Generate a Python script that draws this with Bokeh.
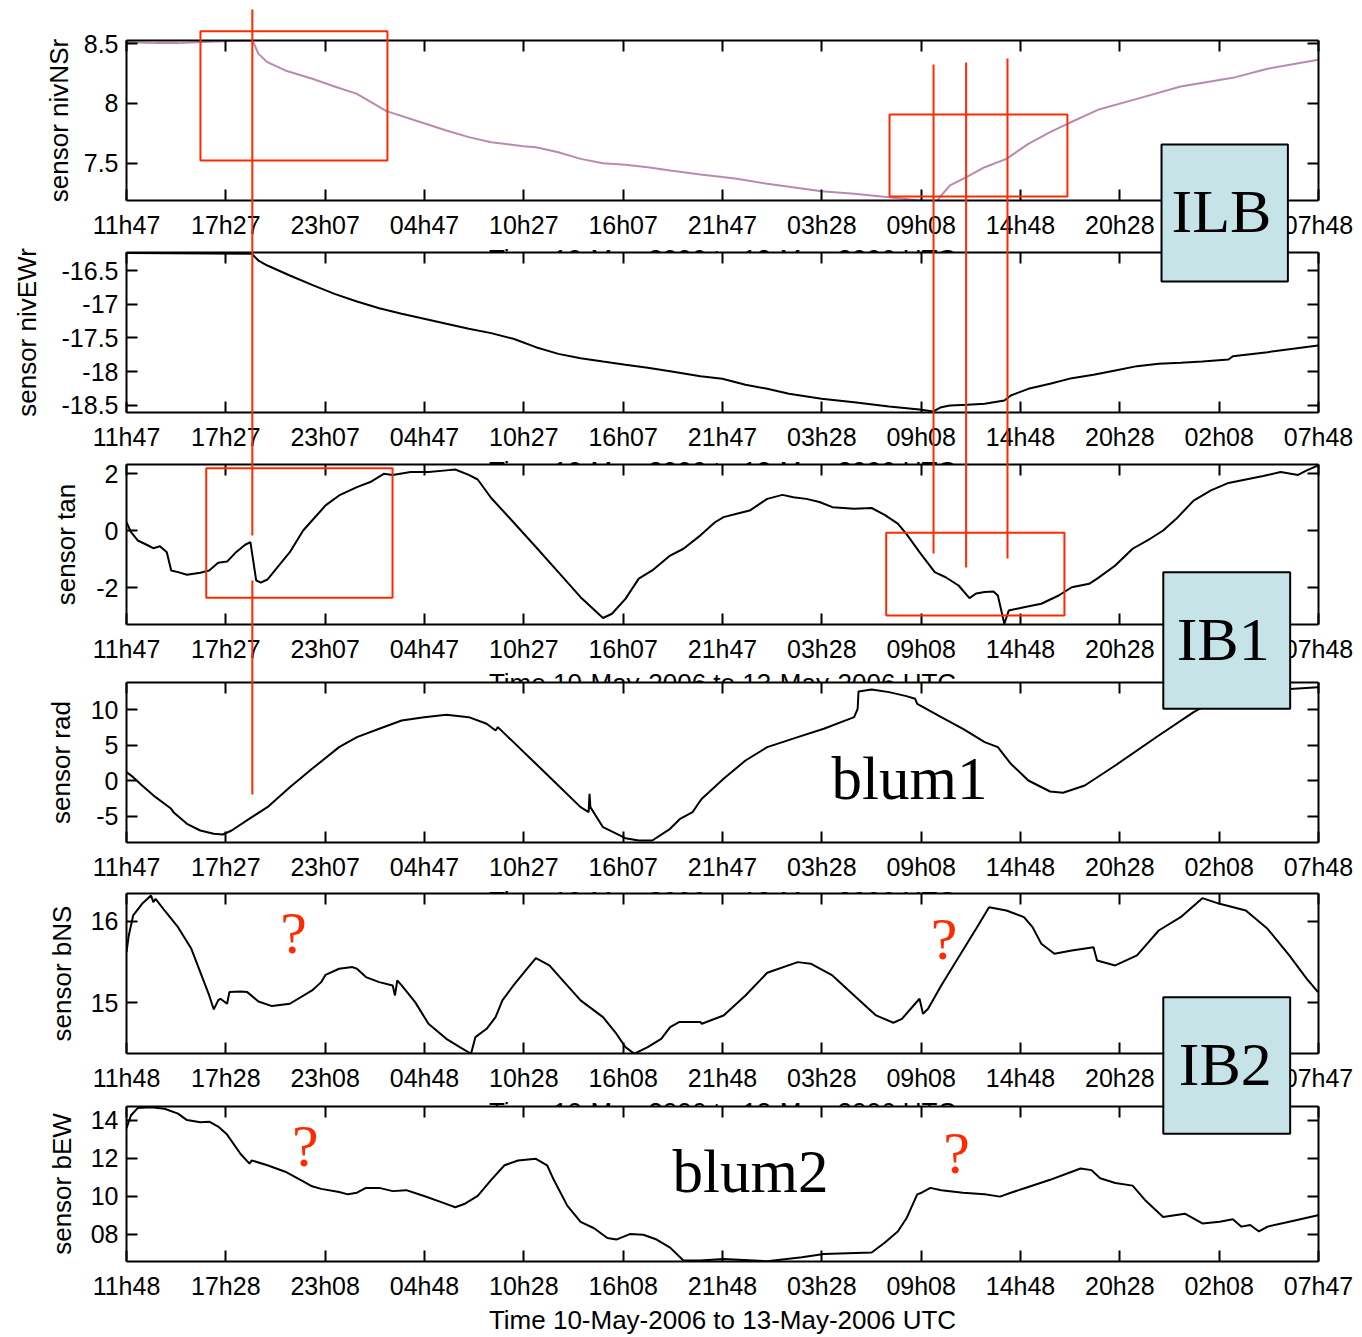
from bokeh.plotting import figure
from bokeh.models import Range1d, LinearAxis, FixedTicker, BoxAnnotation, Label, ColumnDataSource
from bokeh.layouts import column
from bokeh.embed import file_html
from bokeh.resources import INLINE

# ---------------- data ----------------
T_END = 68 + 1 / 60.0          # hours from 10-May 11h47 to 13-May 07h48
x_ticks = [i * T_END / 12 for i in range(13)]
xlabels_a = ["11h47", "17h27", "23h07", "04h47", "10h27", "16h07", "21h47",
             "03h28", "09h08", "14h48", "20h28", "02h08", "07h48"]
xlabels_b = ["11h48", "17h28", "23h08", "04h48", "10h28", "16h08", "21h48",
             "03h28", "09h08", "14h48", "20h28", "02h08", "07h47"]
TIME_TEXT = "Time 10-May-2006 to 13-May-2006 UTC"

nivNSr_h = [0, 1.66, 2.94, 5.49, 7.15, 7.28, 7.53, 8.04, 9.06, 10.6, 11.87, 13.15, 14.83, 16.98, 18.25,
            19.53, 20.81, 22.65, 23.36, 24.64, 25.91, 27.19, 28.47, 29.74, 31.02, 32.75, 34.0, 34.82, 36.56,
            39.66, 41.52, 43.51, 45.25, 46.24, 46.49, 46.99, 47.98, 48.97, 50.21, 51.46, 52.70, 53.69, 55.43,
            57.66, 60.15, 63.13, 65.11, 68.0]
nivNSr_v = [8.514, 8.506, 8.506, 8.522, 8.528, 8.500, 8.416, 8.346, 8.277, 8.207, 8.142, 8.081, 7.936,
            7.835, 7.774, 7.718, 7.676, 7.642, 7.634, 7.592, 7.536, 7.500, 7.486, 7.466, 7.439, 7.405, 7.383,
            7.369, 7.327, 7.265, 7.243, 7.215, 7.187, 7.182, 7.229, 7.313, 7.388, 7.466, 7.536, 7.662, 7.760,
            7.830, 7.947, 8.039, 8.142, 8.215, 8.291, 8.366]

nivEWr_h = [0, 7.15, 7.53, 8.04, 9.32, 10.59, 11.87, 13.15, 14.42, 15.70, 16.98, 18.25, 19.53, 20.81, 22.08,
            23.36, 24.64, 25.91, 27.19, 28.47, 29.74, 31.02, 32.75, 34.0, 35.32, 36.56, 37.80, 39.66, 41.52,
            43.51, 45.25, 46.04, 46.49, 46.99, 47.98, 48.97, 50.09, 50.46, 51.46, 52.70, 53.94, 55.18, 56.42,
            57.66, 58.90, 60.15, 61.39, 62.88, 63.13, 65.11, 67.99]
nivEWr_v = [-16.24, -16.253, -16.352, -16.426, -16.574, -16.712, -16.846, -16.959, -17.058, -17.142,
            -17.216, -17.290, -17.364, -17.428, -17.512, -17.636, -17.735, -17.799, -17.849, -17.898,
            -17.942, -17.992, -18.066, -18.105, -18.194, -18.253, -18.327, -18.401, -18.451, -18.515,
            -18.559, -18.589, -18.525, -18.500, -18.490, -18.475, -18.426, -18.352, -18.253, -18.179,
            -18.095, -18.046, -17.981, -17.917, -17.883, -17.868, -17.848, -17.819, -17.770, -17.710, -17.611]

tan_h = [0, 0.26, 0.64, 1.15, 1.53, 1.91, 2.30, 2.55, 2.94, 3.45, 4.21, 4.72, 5.23, 5.74, 6.25, 6.77, 7.07,
         7.40, 7.66, 8.04, 8.55, 9.32, 10.08, 10.59, 11.36, 12.13, 13.15, 13.91, 14.68, 15.19, 16.21, 17.23,
         18.25, 18.76, 19.53, 20.04, 20.81, 22.08, 23.36, 24.64, 25.91, 27.19, 27.70, 28.47, 29.23, 30.0,
         31.02, 31.78, 32.75,
         33.58, 34.07, 34.82, 35.56, 36.56, 37.43, 38.05, 38.79, 39.54, 40.28, 41.52, 42.52, 43.26, 44.01,
         44.50, 45.25, 46.12, 46.74, 47.48, 48.10, 48.48, 48.97, 49.47, 49.72, 50.09, 50.34, 51.21, 52.20,
         53.19, 53.94, 54.93, 55.43, 56.42, 57.41, 58.41, 59.15, 59.90, 60.89, 61.88, 62.88, 63.87, 64.86,
         65.86, 66.85, 67.35, 67.99]
tan_v = [0.30, -0.05, -0.34, -0.49, -0.61, -0.54, -0.75, -1.39, -1.45, -1.54, -1.47, -1.39, -1.12, -1.08,
         -0.75, -0.49, -0.40, -1.74, -1.82, -1.71, -1.33, -0.75, 0.01, 0.36, 0.89, 1.24, 1.53, 1.71, 2.0,
         1.96, 2.06, 2.06, 2.12, 2.15, 1.96, 1.80, 1.15, 0.30, -0.57, -1.45, -2.33, -3.06, -2.91, -2.39,
         -1.68, -1.39, -0.87, -0.63, -0.16,
         0.30, 0.48, 0.60, 0.71, 1.12, 1.26, 1.18, 1.12, 1.01, 0.83, 0.77, 0.80, 0.56, 0.25, -0.11, -0.75,
         -1.45, -1.63, -1.92, -2.36, -2.20, -2.15, -2.13, -2.27, -3.26, -2.80, -2.68, -2.56, -2.27, -1.98,
         -1.86, -1.66, -1.22, -0.63, -0.28, 0.01, 0.42, 1.06, 1.42, 1.68, 1.80, 1.92, 2.06, 1.96, 2.12, 2.29]

rad_h = [0, 0.38, 0.89, 1.66, 2.17, 2.55, 2.68, 3.45, 4.21, 4.98, 5.49, 6.0, 7.15, 8.04, 9.32, 10.59, 12.13,
         13.15, 14.42, 15.70, 16.98, 18.25, 19.53, 20.55, 21.06, 21.19, 22.08, 23.36, 24.64, 25.91, 26.37,
         26.42, 26.47, 27.19, 28.47, 29.23, 30.0, 31.02, 31.59, 32.30, 32.75, 32.83, 34.07, 35.32, 36.56,
         38.30, 39.79, 41.52, 41.72, 41.77, 42.52, 43.51, 44.50, 45.0, 45.12, 46.49, 47.73, 48.97, 49.72,
         50.46, 51.46, 52.70, 53.44, 54.68, 56.42, 58.90, 60.89, 62.63, 65.11, 67.99]
rad_v = [1.233, 0.530, -0.642, -2.283, -3.221, -3.924, -4.393, -6.034, -6.972, -7.440, -7.534, -6.972,
         -5.097, -3.690, -0.877, 1.702, 4.749, 6.156, 7.328, 8.500, 8.969, 9.297, 8.969, 8.031, 7.094, 7.562,
         5.452, 2.405, -0.642, -3.690, -4.393, -1.814, -3.690, -6.503, -8.050, -8.378, -8.378, -6.737,
         -5.330, -4.393, -2.752, -2.518, 0.295, 2.874, 4.749, 6.156, 7.328, 8.969, 10.141, 12.579, 12.860,
         12.485, 11.922, 11.547, 10.844, 8.969, 7.328, 5.452, 4.749, 2.405, 0.061, -1.486, -1.674, -0.642,
         2.171, 6.390, 9.672, 12.016, 12.719, 13.188]

bNS_h = [0, 0.13, 0.38, 0.89, 1.40, 1.53, 1.66, 2.17, 2.94, 3.70, 4.21, 4.72, 4.98, 5.23, 5.36, 5.74, 5.87,
         6.51, 6.89, 7.53, 8.30, 9.32, 10.59, 11.11, 11.36, 12.13, 12.89, 13.15, 13.66, 14.42, 15.19, 15.32,
         15.45, 15.70, 16.47, 17.23, 18.25, 19.02, 19.66, 19.91, 20.55, 21.06, 21.45, 22.08, 22.85, 23.36,
         24.13, 24.89, 25.91, 27.19, 27.95, 28.47, 28.98, 29.74, 30.51, 31.02, 31.53, 32.75,
         32.83, 34.07, 35.32, 36.56, 38.30, 39.04, 40.28, 41.52, 42.77, 43.76, 44.25, 45.0, 45.25, 45.45,
         45.74, 46.49, 47.48, 48.48, 49.22, 50.21, 51.21, 51.70, 52.20, 52.95, 53.94, 55.18, 55.38, 56.42,
         57.66, 58.90, 60.15, 61.39, 62.38, 63.87, 65.11, 66.35, 67.35, 67.99]
bNS_v = [15.623, 15.828, 16.074, 16.217, 16.320, 16.238, 16.279, 16.135, 15.930, 15.664, 15.377, 15.090,
         14.918, 15.029, 15.049, 14.988, 15.131, 15.139, 15.131, 15.016, 14.959, 14.988, 15.152, 15.254,
         15.344, 15.418, 15.439, 15.418, 15.316, 15.254, 15.213, 15.090, 15.275, 15.213, 15.008, 14.742,
         14.557, 14.455, 14.373, 14.578, 14.680, 14.824, 15.029, 15.213, 15.418, 15.549, 15.459, 15.275,
         15.029, 14.824, 14.619, 14.455, 14.373, 14.455, 14.557, 14.701, 14.762, 14.762,
         14.742, 14.844, 15.090, 15.369, 15.500, 15.480, 15.336, 15.090, 14.844, 14.754, 14.803, 14.988,
         15.049, 14.865, 14.926, 15.213, 15.561, 15.910, 16.176, 16.135, 16.053, 15.930, 15.725, 15.602,
         15.643, 15.684, 15.520, 15.459, 15.582, 15.889, 16.053, 16.287, 16.217, 16.135, 15.910, 15.582,
         15.295, 15.131]

bEW_h = [0, 0.26, 0.64, 1.40, 2.17, 2.94, 3.45, 4.21, 4.72, 5.23, 5.74, 6.51, 7.02, 7.15, 8.04, 9.06, 10.08,
         10.59, 11.11, 12.13, 12.64, 13.15, 13.66, 14.42, 15.19, 15.96, 16.98, 18.0, 18.76, 19.27, 20.04,
         20.81, 21.57, 22.34, 23.36, 24.0, 24.38, 25.15, 25.91, 26.68, 27.44, 27.95, 28.72, 29.49, 30.25,
         31.02, 31.78, 32.75,
         34.07, 36.56, 38.54, 39.79, 42.52, 43.26, 44.01, 44.50, 45.12, 45.37, 45.87, 46.49, 47.73, 48.97,
         49.84, 50.46, 51.46, 52.70, 53.94, 54.44, 55.06, 55.56, 56.42, 57.41, 58.16, 59.15, 60.39, 61.39,
         62.38, 63.13, 63.62, 64.12, 64.62, 65.11, 66.35, 67.99]
bEW_v = [13.575, 14.255, 14.629, 14.680, 14.595, 14.340, 14.0, 13.881, 13.915, 13.660, 13.235, 12.215,
         11.705, 11.875, 11.620, 11.280, 10.770, 10.515, 10.379, 10.209, 10.090, 10.175, 10.430, 10.430,
         10.260, 10.311, 10.005, 9.665, 9.410, 9.580, 10.005, 10.855, 11.620, 11.875, 11.960, 11.620,
         10.855, 9.495, 8.646, 8.306, 7.796, 7.711, 8.0, 7.966, 7.711, 7.286, 6.606, 6.606,
         6.691, 6.572, 6.776, 6.946, 7.031, 7.541, 8.136, 8.816, 10.090, 10.175, 10.430, 10.311, 10.175,
         10.090, 9.971, 10.175, 10.481, 10.855, 11.280, 11.450, 11.365, 10.940, 10.685, 10.549, 9.750,
         8.901, 9.071, 8.561, 8.646, 8.782, 8.391, 8.476, 8.136, 8.391, 8.646, 8.986]

# y ticks / labels per panel
nivNSr_ticks, nivNSr_tlabels = [7.5, 8, 8.5], ["7.5", "8", "8.5"]
nivEWr_ticks, nivEWr_tlabels = [-18.5, -18, -17.5, -17, -16.5], ["-18.5", "-18", "-17.5", "-17", "-16.5"]
tan_ticks, tan_tlabels = [-2, 0, 2], ["-2", "0", "2"]
rad_ticks, rad_tlabels = [-5, 0, 5, 10], ["-5", "0", "5", "10"]
bNS_ticks, bNS_tlabels = [15, 16], ["15", "16"]
bEW_ticks, bEW_tlabels = [8, 10, 12, 14], ["08", "10", "12", "14"]

# ---------------- styles / layout ----------------
RED = "#ff2a00"
BLUE = "#c6e4e7"
PINK = "#b98aaf"
SANS = "Liberation Sans"
SERIF = "Liberation Serif"
W = 1362
H = 1337
LEFT_B, RIGHT_B = 126, 44
FRAME_H = 160

panels = [
    dict(name="sensor nivNSr", h=nivNSr_h, v=nivNSr_v, yr=(7.187, 8.528), yt=nivNSr_ticks, ytl=nivNSr_tlabels,
         xl=xlabels_a, color=PINK, top=40, bt=40, bb=80, std=7),
    dict(name="sensor nivEWr", h=nivEWr_h, v=nivEWr_v, yr=(-18.604, -16.233), yt=nivEWr_ticks, ytl=nivEWr_tlabels,
         xl=xlabels_a, color="black", top=252, bt=30, bb=80, std=17),
    dict(name="sensor tan", h=tan_h, v=tan_v, yr=(-3.288, 2.326), yt=tan_ticks, ytl=tan_tlabels,
         xl=xlabels_a, color="black", top=464, bt=30, bb=80, std=12),
    dict(name="sensor rad", h=rad_h, v=rad_v, yr=(-8.66, 13.84), yt=rad_ticks, ytl=rad_tlabels,
         xl=xlabels_a, color="black", top=682, bt=30, bb=80, std=12),
    dict(name="sensor bNS", h=bNS_h, v=bNS_v, yr=(14.376, 16.344), yt=bNS_ticks, ytl=bNS_tlabels,
         xl=xlabels_b, color="black", top=893, bt=30, bb=80, std=11),
    dict(name="sensor bEW", h=bEW_h, v=bEW_v, yr=(6.556, 14.714), yt=bEW_ticks, ytl=bEW_tlabels,
         xl=xlabels_b, color="black", top=1106, bt=30, bb=71, std=11),
]

# overlay marks: x in hours (same time scale as the panels), y in page pixel rows
red_boxes = [(4.22, 14.89, 30.7, 160), (43.54, 53.69, 114, 196),
             (4.55, 15.18, 467.7, 597.3), (43.35, 53.52, 532.3, 615)]
red_lines = [(7.18, 9, 535), (7.18, 580, 794), (46.05, 64, 553), (47.91, 62, 567), (50.27, 58, 558)]
blue_boxes = [(59.06, 66.27, 144, 281), (59.16, 66.40, 571.7, 708.3), (59.16, 66.40, 996.7, 1133.3)]
# (x hours, baseline row, text, font px, colour)
texts = [(62.48, 231.7, "ILB", 62, "black"), (62.58, 659, "IB1", 62, "black"),
         (62.70, 1084.3, "IB2", 62, "black"), (44.68, 799, "blum1", 61, "black"),
         (35.61, 1191.7, "blum2", 61, "black"),
         (9.53, 952, "?", 60, RED), (46.65, 958, "?", 60, RED),
         (10.21, 1165, "?", 60, RED), (47.36, 1172, "?", 60, RED)]


def make_axis(ticks, labels, show):
    ax = LinearAxis(ticker=FixedTicker(ticks=ticks, minor_ticks=[]),
                    major_label_overrides={t: (l if show else "") for t, l in zip(ticks, labels)})
    ax.axis_line_width = 2
    ax.axis_line_color = "black"
    ax.major_tick_line_width = 2
    ax.major_tick_line_color = "black"
    ax.major_tick_in = 11
    ax.major_tick_out = 0
    ax.minor_tick_in = 0
    ax.minor_tick_out = 0
    ax.major_label_text_font = SANS
    ax.major_label_text_color = "black"
    if show:
        ax.major_label_text_font_size = "25px"
    else:
        ax.major_label_text_font_size = "0px"
        ax.major_label_standoff = 0
    return ax


figs = []
prev_bottom = 0
for i, pn in enumerate(panels):
    assert len(pn["h"]) == len(pn["v"]), (pn["name"], len(pn["h"]), len(pn["v"]))
    height = pn["bt"] + FRAME_H + pn["bb"]
    canvas_top = pn["top"] - pn["bt"]
    p = figure(width=W, height=height, x_range=Range1d(0, x_ticks[-1]), y_range=Range1d(*pn["yr"]),
               x_axis_type=None, y_axis_type=None, output_backend="svg", toolbar_location=None,
               min_border_left=LEFT_B, min_border_right=RIGHT_B, min_border_top=pn["bt"],
               min_border_bottom=pn["bb"], margin=(canvas_top - prev_bottom, 0, 0, 0))
    prev_bottom = canvas_top + height
    p.background_fill_color = "white"
    p.border_fill_alpha = 0
    p.outline_line_color = None

    bottom = make_axis(x_ticks, pn["xl"], True)
    bottom.major_label_standoff = 10
    bottom.axis_label = TIME_TEXT
    bottom.axis_label_text_font = SANS
    bottom.axis_label_text_font_style = "normal"
    bottom.axis_label_text_font_size = "26px"
    bottom.axis_label_text_color = "black"
    bottom.axis_label_standoff = 2
    p.add_layout(bottom, "below")
    p.add_layout(make_axis(x_ticks, pn["xl"], False), "above")
    left = make_axis(pn["yt"], pn["ytl"], True)
    left.major_label_standoff = 8
    left.axis_label = pn["name"]
    left.axis_label_text_font = SANS
    left.axis_label_text_font_style = "normal"
    left.axis_label_text_font_size = "26px"
    left.axis_label_text_color = "black"
    left.axis_label_standoff = pn["std"]
    p.add_layout(left, "left")
    p.add_layout(make_axis(pn["yt"], pn["ytl"], False), "right")

    src = ColumnDataSource(dict(x=pn["h"], y=pn["v"]))
    p.line("x", "y", source=src, line_color=pn["color"], line_width=2)
    figs.append(p)

# transparent overlay on top of the whole stack for the annotations that cross panels;
# its frame is aligned by the column with the panels' frames, so it shares their time scale
ov = figure(width=W, height=H, x_range=Range1d(0, x_ticks[-1]), y_range=Range1d(H, 0),
            x_axis_type=None, y_axis_type=None, output_backend="svg", toolbar_location=None,
            min_border_left=LEFT_B, min_border_right=RIGHT_B, min_border_top=0, min_border_bottom=0,
            margin=(-prev_bottom, 0, 0, 0))
ov.background_fill_alpha = 0
ov.border_fill_alpha = 0
ov.outline_line_color = None
for (l, r, t, b) in red_boxes:
    ov.add_layout(BoxAnnotation(left=l, right=r, top=t, bottom=b, fill_color=None, fill_alpha=0,
                                line_color=RED, line_alpha=1, line_width=2))
for (x, t, b) in red_lines:
    ov.add_layout(BoxAnnotation(left=x, right=x, top=t, bottom=b, fill_color=None, fill_alpha=0,
                                line_color=RED, line_alpha=1, line_width=2))
for (l, r, t, b) in blue_boxes:
    ov.add_layout(BoxAnnotation(left=l, right=r, top=t, bottom=b, fill_color=BLUE, fill_alpha=1,
                                line_color="black", line_alpha=1, line_width=2))
for (x, y, s, fs, c) in texts:
    # the label is anchored on its middle, so lift it by ~0.34 em to put the baseline on y
    ov.add_layout(Label(x=x, y=y, y_offset=round(0.34 * fs), text=s, text_font=SERIF,
                        text_font_size=f"{fs}px", text_color=c,
                        text_align="center", text_baseline="alphabetic"))
figs.append(ov)

layout = column(*figs)
open("out.html", "w").write(file_html(layout, INLINE))
